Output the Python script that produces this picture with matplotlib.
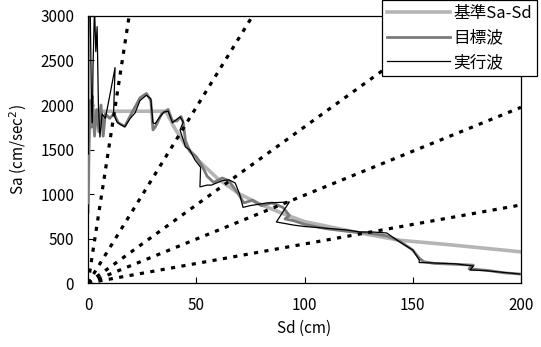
import numpy as np
import matplotlib
matplotlib.use("Agg")
import matplotlib.pyplot as plt

plt.rcParams['font.family'] = ['Noto Sans CJK JP', 'DejaVu Sans']

# period lines (s): Sa = (2*pi/T)^2 * Sd
periods = [0.5, 1.0, 1.5, 2.0, 3.0]

# 基準Sa-Sd
std_sd = [0, 0.3, 1, 36, 40, 45, 50, 60, 70, 80, 90, 100, 126, 144, 167, 200]
std_sa = [800, 1500, 1930, 1930, 1740, 1550, 1400, 1170, 1000, 880, 780, 690, 560, 480, 430, 350]

# 目標波
tgt_sd = [0, 0.5, 1, 1.5, 2, 3, 4, 5, 6, 7, 8, 10, 12, 14, 17, 20, 24, 27, 29, 30, 31,
          34, 37, 39, 41, 43, 44, 45, 47, 50, 53, 55, 58, 62, 65, 68, 70, 72, 76, 80,
          85, 90, 93, 91, 95, 100, 110, 120, 130, 138, 144, 150, 153, 155, 160, 170,
          178, 176, 185, 192, 200]
tgt_sa = [900, 1700, 2050, 1750, 2100, 1650, 1950, 1700, 2000, 1650, 1900, 1850, 1900,
          1800, 1760, 1900, 2080, 2130, 2050, 1720, 1750, 1900, 1950, 1820, 1820, 1870,
          1800, 1600, 1480, 1420, 1300, 1200, 1130, 1180, 1150, 1050, 980, 900, 930, 870,
          900, 850, 760, 720, 700, 660, 610, 580, 560, 530, 470, 370, 280, 240, 220, 210,
          200, 160, 140, 115, 100]

# 実行波
run_sd = [0.2, 0.4, 1.0, 1.6, 2.0, 2.3, 3.0, 3.6, 4.2, 4.8, 5.5, 6.5, 8, 10, 12.5, 11.8,
          12.5, 13.4, 15, 17, 19.5, 21.7, 24, 27, 29, 30, 31, 33, 35, 37, 39, 41, 42.5,
          44, 42.5, 45, 47, 49.4, 52, 51.7, 55, 57, 62, 65, 68, 70, 71.6, 75, 82.7, 88,
          93, 87, 94.7, 100, 110, 119.6, 125.6, 131.6, 138, 144, 150, 153, 153, 160, 170,
          178, 176.4, 183, 190, 199.5]
run_sa = [1450, 3100, 3100, 2000, 1800, 2430, 3100, 2600, 2880, 2000, 1640, 1900, 1850,
          2100, 2420, 1900, 1860, 1810, 1780, 1755, 1850, 1910, 2050, 2110, 2070, 1800,
          1790, 1860, 1920, 1930, 1800, 1840, 1866, 1810, 1720, 1530, 1495, 1383, 1300,
          1080, 1100, 1100, 1150, 1160, 1124, 1000, 850, 870, 900, 905, 910, 686, 652,
          635, 615, 596, 573, 573, 562, 461, 371, 258, 230, 225, 215, 191, 146, 140, 124,
          101]

fig = plt.figure(figsize=(5.41, 3.47), dpi=100)
ax = fig.add_axes([0.1627, 0.1844, 0.8003, 0.7695])

ax.plot(std_sd, std_sa, color='#b5b5b5', lw=2.6, label='基準Sa-Sd', zorder=2)
ax.plot(tgt_sd, tgt_sa, color='#7a7a7a', lw=2.0, label='目標波', zorder=3)
ax.plot(run_sd, run_sa, color='black', lw=0.9, label='実行波', zorder=4)

xs = np.array([0, 200])
for T in periods:
    k = (2 * np.pi / T) ** 2
    ax.plot(xs, k * xs, color='black', lw=2.3, linestyle=(0, (1.3, 2.0)), zorder=5)

ax.set_xlim(0, 200)
ax.set_ylim(0, 3000)
ax.set_xticks([0, 50, 100, 150, 200])
ax.set_yticks([0, 500, 1000, 1500, 2000, 2500, 3000])
ax.tick_params(direction='in', labelsize=11, length=4, pad=10)
ax.set_xlabel('Sd (cm)', fontsize=11, labelpad=4)
ax.set_ylabel('Sa (cm/sec$^2$)', fontsize=11, labelpad=8)
for s in ax.spines.values():
    s.set_linewidth(0.9)

leg = fig.legend(loc='upper right', bbox_to_anchor=(0.993, 1.0), fontsize=12,
                 frameon=True, fancybox=False, edgecolor='black', framealpha=1,
                 borderaxespad=0, handlelength=3.8, handletextpad=0.2,
                 borderpad=0.3, labelspacing=0.45)
leg.get_frame().set_linewidth(0.9)

fig.savefig('out.png', dpi=100)
